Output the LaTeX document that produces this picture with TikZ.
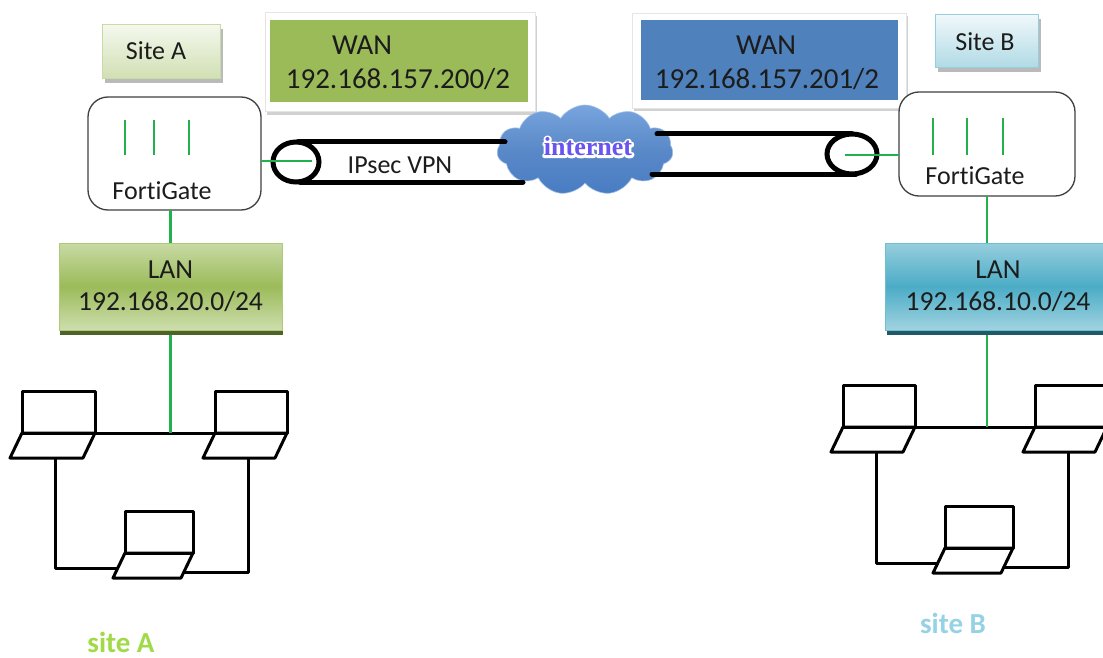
\documentclass[tikz,border=0pt]{standalone}
\usepackage{fontspec}
\setmainfont{Carlito}[Ligatures=NoCommon]
\newfontfamily\netserif{Liberation Serif}
\usetikzlibrary{shapes.symbols,shadows}

\definecolor{wire}{RGB}{34,177,76}
\definecolor{ink}{RGB}{28,28,28}
\definecolor{olive}{RGB}{155,187,89}
\definecolor{oliveL}{RGB}{200,218,165}
\definecolor{oliveD}{RGB}{79,98,40}
\definecolor{steel}{RGB}{79,129,189}
\definecolor{aqua}{RGB}{75,172,198}
\definecolor{aquaL}{RGB}{150,206,221}
\definecolor{aquaD}{RGB}{33,89,104}
\definecolor{lime}{RGB}{160,218,70}
\definecolor{sky}{RGB}{150,210,230}
\definecolor{cloudL}{RGB}{120,165,222}
\definecolor{cloudD}{RGB}{72,124,194}
\definecolor{netword}{RGB}{104,84,240}

% white-rimmed lettering: a wide white outline underneath, the filled letters on top
\newcommand\rimmed[1]{%
  \rlap{\fontsize{26.05}{26}\selectfont
    \special{pdf:literal direct q 1 Tr 4.5 w 1 1 1 RG 1 j}#1\special{pdf:literal direct Q}}%
  #1}

\tikzset{
  pics/laptop/.style={code={
    \draw[lap] (0,0) rectangle (#1,-42);
    \draw[lap] (0,0) -- (#1,0) -- (#1-12,25) -- (-12,25) -- cycle;
    \coordinate (-sl) at (0,0);
    \coordinate (-sr) at (#1,0);
    \coordinate (-dn) at (33,25);
    \coordinate (-bw) at (-7,15);
    \coordinate (-be) at (#1-9,19);
  }}
}

\begin{document}
\begin{tikzpicture}[x=1pt,y=-1pt,
  every node/.style={inner sep=0pt, outer sep=0pt},
  wire/.style={draw=wire, line width=2.6pt},
  tube/.style={draw=black, line width=5pt, line cap=round},
  net/.style={draw=black, line width=3pt, line join=round},
  lap/.style={draw=black, line width=3pt, line join=round},
  boxtxt/.style={text=ink, font=\fontsize{26}{30}\selectfont},
  sitebox/.style={minimum width=118pt, minimum height=54pt, line width=1pt,
    drop shadow={shadow xshift=3pt, shadow yshift=-4pt, fill=black!45, opacity=0.6}},
  wanframe/.style={fill=white, draw=black!10, line width=1pt,
    drop shadow={shadow xshift=2pt, shadow yshift=-3pt, fill=black!40, opacity=0.45}},
  wanbox/.style={minimum width=258pt, minimum height=82pt},
  wantxt/.style={text=ink, font=\fontsize{29}{34}\selectfont},
  fgbox/.style={draw=black!75, line width=1.3pt, rounded corners=20pt, fill=white},
  lanbox/.style={minimum width=223pt, minimum height=87pt, line width=0.8pt,
    align=center, text=ink, font=\fontsize{27.5}{32}\selectfont},
  sitetxt/.style={font=\bfseries\fontsize{29}{34}\selectfont}
]
\useasboundingbox (0,0) rectangle (1103,658);
\clip (0,0) rectangle (1103,658);
\fill[white] (0,0) rectangle (1103,658);

% ---------- site labels ----------
\node[sitebox, draw=oliveL, top color=white!80!oliveL, bottom color=oliveL!85]
  (siteA) at (161,52) {};
\node[boxtxt] (siteAtxt) at (156,51) {Site A};
\node[sitebox, minimum width=103pt, minimum height=53pt, draw=aquaL,
  top color=white!85!aquaL, bottom color=aquaL!75] (siteB) at (986.5,41.5) {};
\node[boxtxt] (siteBtxt) at (985,42) {Site B};

% ---------- WAN addresses ----------
\node[wanframe, minimum width=270pt, minimum height=99pt] (wanAframe) at (400,62.5) {};
\node[wanbox, fill=olive] (wanA) at (399,61.5) {};
\node[wantxt] (wanAname) at (362,45) {WAN};
\node[wantxt] (wanAip) at (398,79) {192.168.157.200/2};

\node[wanframe, minimum width=274pt, minimum height=95pt] (wanBframe) at (769,61) {};
\node[wanbox, minimum width=257pt, minimum height=80pt, fill=steel] (wanB) at (769.5,60) {};
\node[wantxt] (wanBname) at (766,45) {WAN};
\node[wantxt] (wanBip) at (767,79) {192.168.157.201/2};

% ---------- firewalls ----------
\node[fgbox, minimum width=173pt, minimum height=113pt] (fgA) at (174.5,153.5) {};
\foreach \dx in {-49.5,-20.5,14.5}
  \draw[wire] ([shift={(\dx,-33.5)}]fgA.center) -- ++(0,35);
\node[boxtxt] (fgAtxt) at (162,191) {FortiGate};

\node[fgbox, minimum width=176pt, minimum height=104pt] (fgB) at (987,144) {};
\foreach \dx in {-54,-20,16}
  \draw[wire] ([shift={(\dx,-26)}]fgB.center) -- ++(0,37);
\node[boxtxt] (fgBtxt) at (975,176) {FortiGate};

% ---------- internet cloud ----------
\node[cloud, cloud puffs=11, cloud puff arc=115, minimum width=176pt, minimum height=90pt,
  top color=cloudL, bottom color=cloudD, middle color=cloudD!90!white, draw=cloudL!70!white,
  line width=0.6pt] (netcloud) at (585,150) {};
\node[text=netword, font=\netserif\bfseries\fontsize{26}{26}\selectfont]
  (netword) at (588,147) {\rimmed{internet}};

% ---------- IPsec tunnel ----------
\coordinate (ringA) at (296,162);
\coordinate (ringB) at (852,154);
\coordinate (tunA1) at (505,142);
\coordinate (tunA2) at (523,182);
\coordinate (tunB1) at (657,134);
\coordinate (tunB2) at (652,174);
\draw[tube] (ringA) ellipse [x radius=23, y radius=20];
\draw[tube] ([shift={(2,-20)}]ringA) -- (tunA1);
\draw[tube] ([shift={(4,20)}]ringA) -- (tunA2);
\draw[tube] (ringB) ellipse [x radius=25, y radius=20];
\draw[tube] (tunB1) -- ([shift={(0,-20)}]ringB);
\draw[tube] (tunB2) -- ([shift={(4,20)}]ringB);
\node[boxtxt] (vpn) at (400,165) {IPsec VPN};

\coordinate (plugA) at (312,161);
\coordinate (plugB) at (845,155);
\draw[wire] (fgA.east |- plugA) -- (plugA);
\draw[wire] (fgB.west |- plugB) -- (plugB);

% ---------- LANs ----------
\node[lanbox, draw=olive!80, top color=oliveL, bottom color=oliveL!90, middle color=olive,
  drop shadow={shadow xshift=1pt, shadow yshift=-5pt, fill=oliveD, opacity=1}]
  (lanA) at (170.5,286.5) {LAN\\192.168.20.0/24};
\node[lanbox, minimum width=226pt, draw=aqua!80, top color=aquaL, bottom color=aquaL!90,
  middle color=aqua,
  drop shadow={shadow xshift=2pt, shadow yshift=-5pt, fill=aquaD, opacity=1}]
  (lanB) at (998,286.5) {LAN\\192.168.10.0/24};

\draw[wire] (lanA.north) -- (lanA.north |- fgA.south);
\draw[wire] (fgB.south) -- (fgB.south |- lanB.north);

% ---------- hosts, site A ----------
\pic (lapA1) at (22,433) {laptop=73};
\pic (lapA2) at (215,433) {laptop=72};
\pic (lapA3) at (125,553) {laptop=68};
\draw[net] (lapA1-sr) -- (lapA2-sl);
\draw[wire] ([yshift=-5pt]lanA.south) -- (lanA.south |- lapA1-sr);
\draw[net] (lapA1-dn) |- (lapA3-bw);
\draw[net] (lapA2-dn) |- (lapA3-be);

% ---------- hosts, site B ----------
\pic (lapB1) at (843,427) {laptop=72};
\pic (lapB2) at (1035,427) {laptop=72};
\pic (lapB3) at (945,548) {laptop=68};
\draw[net] (lapB1-sr) -- (lapB2-sl);
\draw[wire] ([yshift=-5pt]fgB.south |- lanB.south) -- (fgB.south |- lapB1-sr);
\draw[net] (lapB1-dn) |- (lapB3-bw);
\draw[net] (lapB2-dn) |- (lapB3-be);

% ---------- site captions ----------
\node[sitetxt, text=lime] (capA) at (121,642) {site A};
\node[sitetxt, text=sky] (capB) at (953,623) {site B};
\end{tikzpicture}
\end{document}
